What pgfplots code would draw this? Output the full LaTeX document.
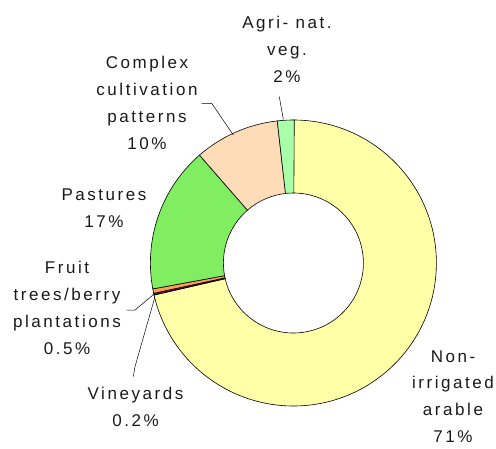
\documentclass[border=0pt]{standalone}
\usepackage{pgfplots}
\usepackage{pgfplotstable}
\pgfplotsset{compat=1.18}
\usepackage{fontspec}
\setmainfont{Liberation Sans}[LetterSpace=15]
\definecolor{cYellow}{RGB}{255,255,168}
\definecolor{cPurple}{RGB}{128,0,128}
\definecolor{cOrange}{RGB}{255,160,80}
\definecolor{cGreen}{RGB}{128,238,96}
\definecolor{cPeach}{RGB}{255,220,184}
\definecolor{cLight}{RGB}{168,255,168}
\pgfplotstableread{
pct col
71.4 cYellow
0.2 cPurple
0.5 cOrange
16.5 cGreen
9.6 cPeach
1.9 cLight
}\slices
\tikzset{lbl/.style={align=center, font=\fontsize{17}{27}\selectfont, text=black!90, inner sep=0pt}}
\begin{document}
\begin{tikzpicture}
\begin{axis}[x=1pt,y=1pt,xmin=0,xmax=496,ymin=0,ymax=448,hide axis,clip=false,scale only axis]
\addplot[draw=none] coordinates {(0,0) (496,448)};
\pgfplotstablegetrowsof{\slices}
\pgfmathtruncatemacro{\nrows}{\pgfplotsretval-1}
\def\cum{0}
\pgfplotsforeachungrouped \i in {0,...,\nrows}{%
  \pgfplotstablegetelem{\i}{pct}\of{\slices}\let\p\pgfplotsretval
  \pgfplotstablegetelem{\i}{col}\of{\slices}\let\c\pgfplotsretval
  \pgfmathsetmacro{\aS}{90-3.6*\cum}%
  \pgfmathsetmacro{\aE}{90-3.6*(\cum+\p)}%
  \pgfmathsetmacro{\cum}{\cum+\p}%
  \pgfmathsetmacro{\xo}{293.4+143*cos(\aS)}%
  \pgfmathsetmacro{\yo}{185+143*sin(\aS)}%
  \pgfmathsetmacro{\xi}{293.4+70*cos(\aE)}%
  \pgfmathsetmacro{\yi}{185+70*sin(\aE)}%
  \edef\tmp{\noexpand\filldraw[fill=\c, draw=black, line width=0.6pt] (axis cs:\xo,\yo) arc[start angle=\aS, end angle=\aE, radius=143pt] -- (axis cs:\xi,\yi) arc[start angle=\aE, end angle=\aS, radius=70pt] -- cycle;}%
  \tmp
}
% leader lines
\draw[line width=0.5pt] (axis cs:279.3,351.3) -- (axis cs:283.3,328.7);
\draw[line width=0.5pt] (axis cs:201.7,344.7) -- (axis cs:211.7,344.7) -- (axis cs:233.3,313);
\draw[line width=0.5pt] (axis cs:126.7,138) -- (axis cs:135,138) -- (axis cs:155,154.7);
\draw[line width=0.5pt] (axis cs:133.3,71.3) -- (axis cs:135,81.3) -- (axis cs:155,151.3);
% labels
\node[lbl] at (axis cs:287,398.5) {Agri- nat.\\veg.\\2\%};
\node[lbl] at (axis cs:147,345.5) {Complex\\cultivation\\patterns\\10\%};
\node[lbl] at (axis cs:104,239.5) {Pastures\\17\%};
\node[lbl] at (axis cs:67,140.5) {Fruit\\trees/berry\\plantations\\0.5\%};
\node[lbl] at (axis cs:135.5,41.5) {Vineyards\\0.2\%};
\node[lbl] at (axis cs:453,51.3) {Non-\\irrigated\\arable\\71\%};
\end{axis}
\end{tikzpicture}
\end{document}
